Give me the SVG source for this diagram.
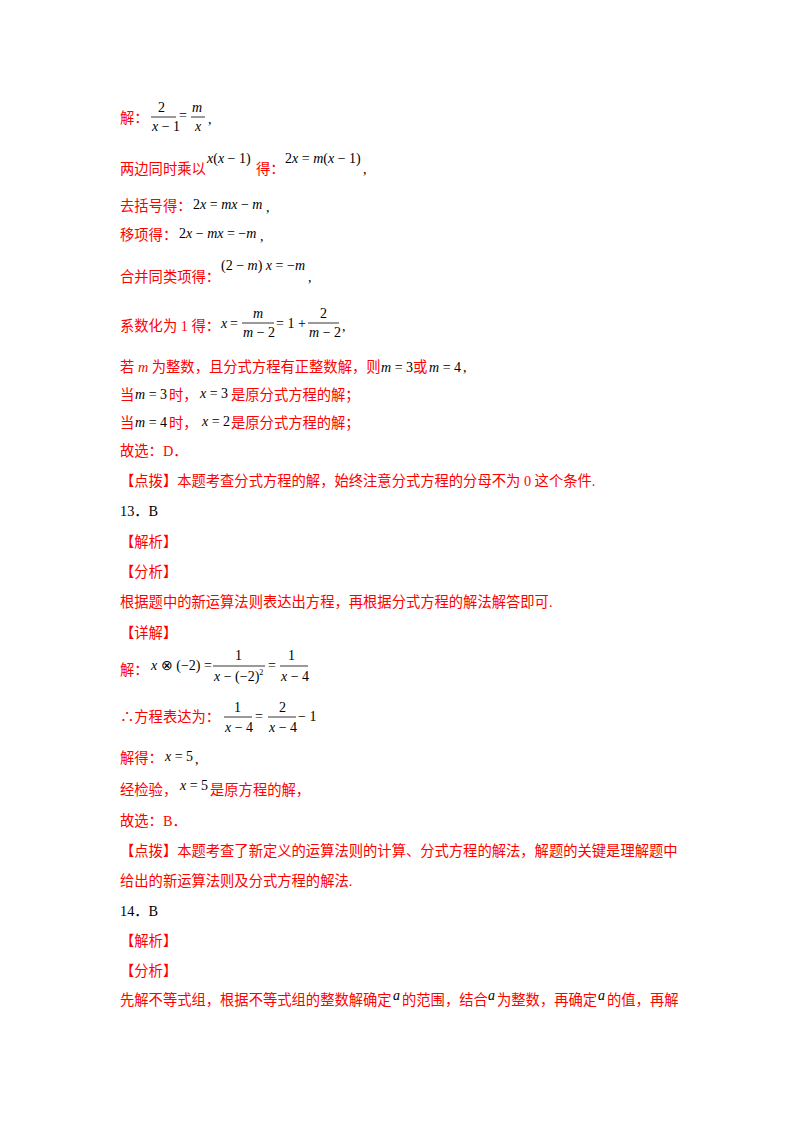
<svg xmlns="http://www.w3.org/2000/svg" width="800" height="1132" viewBox="0 0 800 1132">
<style>
.r{fill:#ff0000;font-family:"Liberation Serif","Noto Sans CJK SC",serif;font-size:14.3px}
.k{fill:#000;font-family:"Liberation Serif","Noto Sans CJK SC",serif;font-size:14.3px}
.m{fill:#000;font-family:"Liberation Serif",serif;font-size:14px}
.i{font-style:italic}
.l{stroke:#000;stroke-width:0.8}
</style>
<rect width="800" height="1132" fill="#fff"/>
<text class="r" x="120" y="123">解：</text>
<text class="m" x="158" y="112">2</text><line class="l" x1="151" y1="117" x2="176" y2="117"/><text class="m" x="152" y="131"><tspan class="i">x</tspan> − 1</text>
<text class="m" x="179" y="120">=</text>
<text class="m i" x="192" y="112">m</text><line class="l" x1="191" y1="117" x2="205" y2="117"/><text class="m i" x="195" y="131">x</text>
<text class="m" x="208" y="124">,</text>

<text class="r" x="120" y="174">两边同时乘以</text>
<text class="m" x="207" y="163"><tspan class="i">x</tspan>(<tspan class="i">x</tspan> − 1)</text>
<text class="r" x="256" y="174">得：</text>
<text class="m" x="285" y="163">2<tspan class="i">x</tspan> = <tspan class="i">m</tspan>(<tspan class="i">x</tspan> − 1)</text>
<text class="m" x="363" y="174">,</text>

<text class="r" x="120" y="211">去括号得：</text>
<text class="m" x="193" y="209">2<tspan class="i">x</tspan> = <tspan class="i">mx</tspan> − <tspan class="i">m</tspan></text>
<text class="m" x="266" y="212">,</text>

<text class="r" x="120" y="240">移项得：</text>
<text class="m" x="179" y="238">2<tspan class="i">x</tspan> − <tspan class="i">mx</tspan> = −<tspan class="i">m</tspan></text>
<text class="m" x="260" y="241">,</text>

<text class="r" x="120" y="282">合并同类项得：</text>
<text class="m" x="221" y="270">(2 − <tspan class="i">m</tspan>) <tspan class="i">x</tspan> = −<tspan class="i">m</tspan></text>
<text class="m" x="308" y="282">,</text>

<text class="r" x="120" y="331">系数化为 1 得：</text>
<text class="m i" x="221" y="328">x</text><text class="m" x="230" y="328">=</text>
<text class="m i" x="253" y="318">m</text><line class="l" x1="242" y1="323" x2="274" y2="323"/><text class="m" x="243" y="337"><tspan class="i">m</tspan> − 2</text>
<text class="m" x="276" y="328">= 1 +</text>
<text class="m" x="320" y="318">2</text><line class="l" x1="308" y1="323" x2="339" y2="323"/><text class="m" x="309" y="337"><tspan class="i">m</tspan> − 2</text>
<text class="m" x="342" y="331">,</text>

<text class="r" x="120" y="372">若 <tspan class="i">m</tspan> 为整数，且分式方程有正整数解，则</text>
<text class="m" x="381" y="372"><tspan class="i">m</tspan> = 3</text>
<text class="r" x="413" y="372">或</text>
<text class="m" x="429" y="372"><tspan class="i">m</tspan> = 4</text>
<text class="m" x="463" y="372">,</text>

<text class="r" x="120" y="400">当</text><text class="m" x="135" y="399"><tspan class="i">m</tspan> = 3</text><text class="r" x="169" y="400">时，</text>
<text class="m" x="200" y="398"><tspan class="i">x</tspan> = 3</text><text class="r" x="231" y="400">是原分式方程的解；</text>

<text class="r" x="120" y="428">当</text><text class="m" x="135" y="427"><tspan class="i">m</tspan> = 4</text><text class="r" x="169" y="428">时，</text>
<text class="m" x="202" y="426" font-size="11"><tspan class="i">x</tspan> = 2</text><text class="r" x="231" y="428">是原分式方程的解；</text>

<text class="r" x="120" y="456">故选：D．</text>
<text class="r" x="120" y="486">【点拨】本题考查分式方程的解，始终注意分式方程的分母不为 0 这个条件.</text>
<text class="k" x="120" y="516">13．B</text>
<text class="r" x="120" y="547">【解析】</text>
<text class="r" x="120" y="577">【分析】</text>
<text class="r" x="120" y="607">根据题中的新运算法则表达出方程，再根据分式方程的解法解答即可.</text>
<text class="r" x="120" y="638">【详解】</text>

<text class="r" x="120" y="675">解：</text>
<text class="m" x="151" y="670"><tspan class="i">x</tspan> ⊗ (−2) =</text>
<text class="m" x="235" y="660">1</text><line class="l" x1="213" y1="666" x2="265" y2="666"/><text class="m" x="214" y="681"><tspan class="i">x</tspan> − (−2)<tspan font-size="8" dy="-6">2</tspan></text>
<text class="m" x="268" y="670">=</text>
<text class="m" x="288" y="660">1</text><line class="l" x1="280" y1="666" x2="308" y2="666"/><text class="m" x="281" y="681"><tspan class="i">x</tspan> − 4</text>

<text class="r" x="120" y="722">∴方程表达为：</text>
<text class="m" x="234" y="712">1</text><line class="l" x1="224" y1="717" x2="252" y2="717"/><text class="m" x="225" y="732"><tspan class="i">x</tspan> − 4</text>
<text class="m" x="255" y="721">=</text>
<text class="m" x="279" y="712">2</text><line class="l" x1="268" y1="717" x2="296" y2="717"/><text class="m" x="269" y="732"><tspan class="i">x</tspan> − 4</text>
<text class="m" x="298" y="721">− 1</text>

<text class="r" x="120" y="763">解得：</text><text class="m" x="165" y="761"><tspan class="i">x</tspan> = 5</text><text class="m" x="195" y="764">,</text>
<text class="r" x="120" y="795">经检验，</text><text class="m" x="180" y="790"><tspan class="i">x</tspan> = 5</text><text class="r" x="210" y="795">是原方程的解，</text>
<text class="r" x="120" y="826">故选：B．</text>
<text class="r" x="120" y="856">【点拨】本题考查了新定义的运算法则的计算、分式方程的解法，解题的关键是理解题中</text>
<text class="r" x="120" y="886">给出的新运算法则及分式方程的解法.</text>
<text class="k" x="120" y="916">14．B</text>
<text class="r" x="120" y="946">【解析】</text>
<text class="r" x="120" y="976">【分析】</text>
<text class="r" x="120" y="1005">先解不等式组，根据不等式组的整数解确定</text>
<text class="m i" x="393" y="1000">a</text>
<text class="r" x="402" y="1005">的范围，结合</text>
<text class="m i" x="488" y="1000">a</text>
<text class="r" x="497" y="1005">为整数，再确定</text>
<text class="m i" x="598" y="1000">a</text>
<text class="r" x="607" y="1005">的值，再解</text>
</svg>
